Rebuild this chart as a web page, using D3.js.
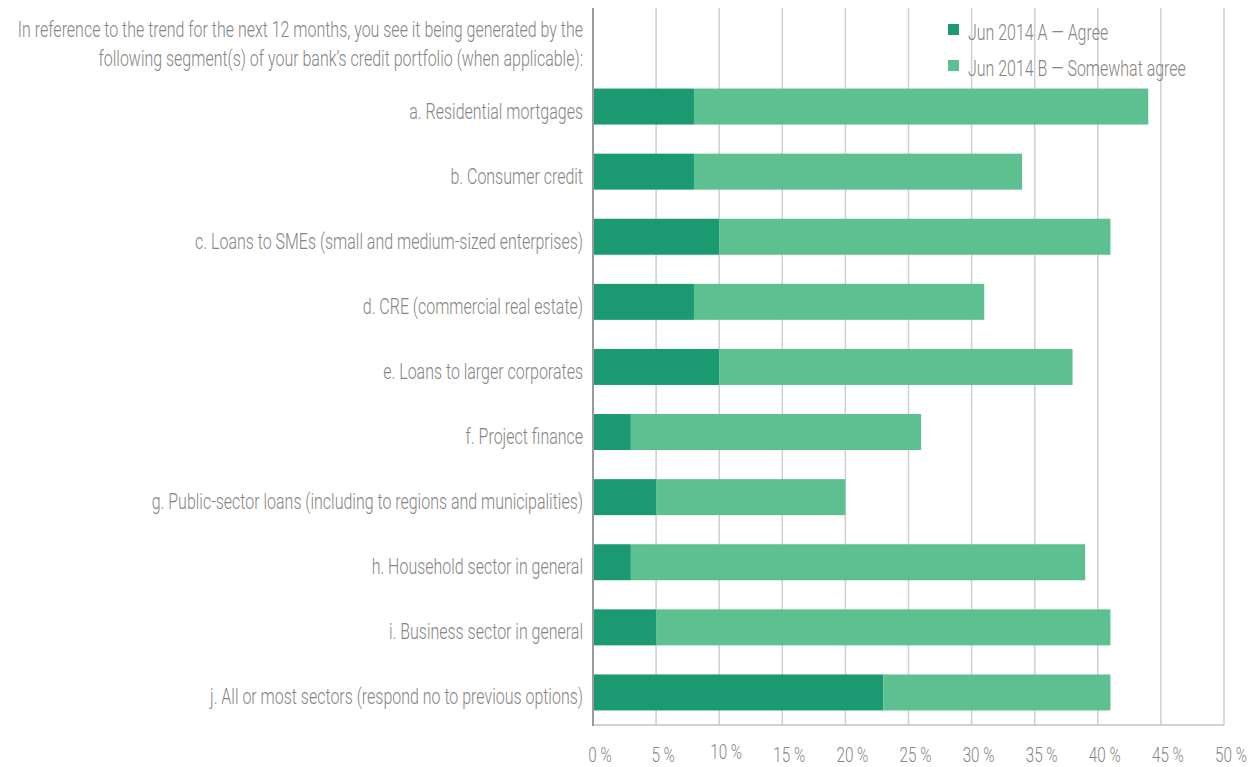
<!DOCTYPE html>
<html>
<head>
<meta charset="utf-8">
<script src="https://cdn.jsdelivr.net/npm/d3@7"></script>
<style>
  body { margin: 0; background: #fff; }
  text { font-family: "Roboto", "DejaVu Sans Condensed", sans-serif; font-weight: 300; fill: #858585; }
</style>
</head>
<body>
<svg id="chart"></svg>
<script>
const categories = [
    'a. Residential mortgages',
    'b. Consumer credit',
    'c. Loans to SMEs (small and medium-sized enterprises)',
    'd. CRE (commercial real estate)',
    'e. Loans to larger corporates',
    'f. Project finance',
    'g. Public-sector loans (including to regions and municipalities)',
    'h. Household sector in general',
    'i. Business sector in general',
    'j. All or most sectors (respond no to previous options)'
];
const agree = [8, 8, 10, 8, 10, 3, 5, 3, 5, 23];
const somewhatAgree = [36, 26, 31, 23, 28, 23, 15, 36, 36, 18];
const seriesNames = ['Jun 2014 A \u2014 Agree', 'Jun 2014 B \u2014 Somewhat agree'];
const colors = ['#1b9a71', '#5cc091'];
const xTicks = [0, 5, 10, 15, 20, 25, 30, 35, 40, 45, 50];
const titleLines = [
    'In reference to the trend for the next 12 months, you see it being generated by the',
    'following segment(s) of your bank\u2019s credit portfolio (when applicable):'
];

const width = 1255, height = 767;
const svg = d3.select('#chart').attr('width', width).attr('height', height);

const x = d3.scaleLinear().domain([0, 50]).range([593, 1224]);
const y = d3.scaleBand().domain(categories).range([74, 725])
    .paddingInner(0.447).paddingOuter(0.2235);

// grid lines
svg.append('g').selectAll('line')
    .data(xTicks.slice(1))
    .join('line')
    .attr('x1', d => x(d)).attr('x2', d => x(d))
    .attr('y1', 8).attr('y2', 725)
    .attr('stroke', '#cfcfcf').attr('stroke-width', 1.5);

// stacked bars
const rows = categories.map((c, i) => ({ cat: c, a: agree[i], b: somewhatAgree[i] }));
const stack = d3.stack().keys(['a', 'b'])(rows);

svg.append('g').selectAll('g')
    .data(stack)
    .join('g')
    .attr('fill', (d, i) => colors[i])
    .selectAll('rect')
    .data(d => d)
    .join('rect')
    .attr('x', d => x(d[0]))
    .attr('width', d => x(d[1]) - x(d[0]))
    .attr('y', d => y(d.data.cat))
    .attr('height', y.bandwidth());

// axes lines
svg.append('line')
    .attr('x1', 593).attr('x2', 1224).attr('y1', 725).attr('y2', 725)
    .attr('stroke', '#c4c4c4').attr('stroke-width', 1.5);
svg.append('line')
    .attr('x1', 593).attr('x2', 593).attr('y1', 8).attr('y2', 726)
    .attr('stroke', '#9a9a9a').attr('stroke-width', 2);

// x tick labels
svg.append('g').selectAll('text')
    .data(xTicks)
    .join('text')
    .attr('class', 'lbl tick')
    .attr('x', d => x(d) + 7)
    .attr('y', d => d === 10 ? 759 : 762)
    .attr('text-anchor', 'middle')
    .text(d => d + ' %');

// category labels
svg.append('g').selectAll('text')
    .data(categories)
    .join('text')
    .attr('class', 'lbl')
    .attr('x', 583)
    .attr('y', d => y(d) + y.bandwidth() / 2 + 12)
    .attr('text-anchor', 'end')
    .text(d => d);

// title
svg.append('g').selectAll('text')
    .data(titleLines)
    .join('text')
    .attr('class', 'lbl')
    .attr('x', 583)
    .attr('y', (d, i) => 37 + i * 29)
    .attr('text-anchor', 'end')
    .text(d => d);

// legend
let legend = svg.selectAll('.legend')
    .data(seriesNames)
    .join('g')
    .attr('class', 'legend')
    .attr('transform', (d, i) => `translate(948, ${24 + i * 36})`);

legend.append('rect')
    .attr('width', 11).attr('height', 11)
    .attr('fill', (d, i) => colors[i]);

legend.append('text')
    .attr('class', 'lbl')
    .attr('x', 20)
    .attr('y', 16)
    .text(d => d);

// the reference font is a narrow one: squeeze the glyphs to match
const labels = svg.selectAll('text.lbl').style('font-size', '22px');
svg.selectAll('text.tick').style('font-size', '21px');
const longest = svg.selectAll('text.lbl').filter(d => d === categories[9]).node();
const k = 373 / longest.getComputedTextLength();
labels.each(function () {
    const w = this.getComputedTextLength();
    d3.select(this)
        .attr('textLength', w * k)
        .attr('lengthAdjust', 'spacingAndGlyphs');
});
</script>
</body>
</html>
